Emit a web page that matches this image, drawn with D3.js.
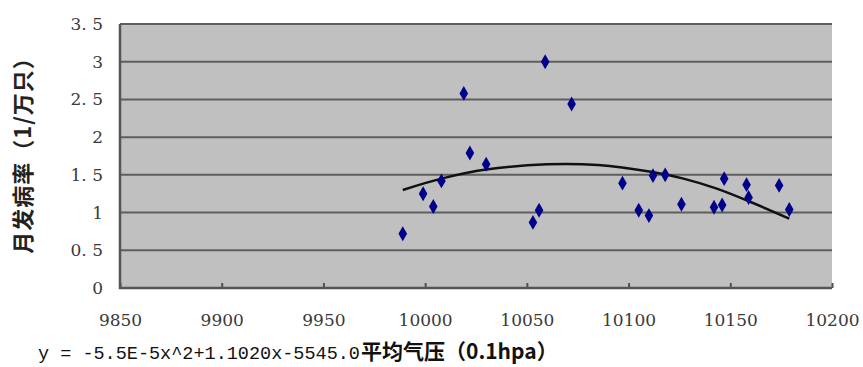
<!DOCTYPE html>
<meta charset="utf-8">
<style>
  body { margin: 0; background: #fff; }
  svg { display: block; }
  .tick text { font-family: "DejaVu Serif", serif; font-size: 17px; fill: #3a3a3a; }
</style>
<body>
<script src="https://cdn.jsdelivr.net/npm/d3@7"></script>
<script>
// observed points (pressure in 0.1 hPa, monthly incidence in 1/10000)
var pressure = [9989, 9999, 10004, 10008, 10019, 10022, 10030, 10053, 10056, 10059, 10072, 10097,
                10105, 10110, 10112, 10118, 10126, 10142, 10146, 10147, 10158, 10159, 10174, 10179];
var incidence = [0.72, 1.25, 1.08, 1.42, 2.58, 1.79, 1.64, 0.87, 1.03, 3.00, 2.44, 1.39,
                 1.03, 0.96, 1.49, 1.50, 1.11, 1.07, 1.10, 1.45, 1.37, 1.20, 1.36, 1.04];

// trend curve
var trendX = [9989, 10008, 10030, 10060, 10085, 10111, 10127, 10143, 10160, 10179];
var trendY = [1.30, 1.45, 1.57, 1.64, 1.63, 1.54, 1.45, 1.32, 1.14, 0.92];

var xTicks = [9850, 9900, 9950, 10000, 10050, 10100, 10150, 10200];
var yTicks = [0, 0.5, 1, 1.5, 2, 2.5, 3, 3.5];

var W = 863, H = 367;
var pLeft = 120, pRight = 832, pTop = 24, pBottom = 288;

var svg = d3.select("body").append("svg")
    .attr("width", W)
    .attr("height", H);

var x = d3.scaleLinear().domain([9850, 10200]).range([pLeft, pRight]);
var y = d3.scaleLinear().domain([0, 3.5]).range([pBottom, pTop]);

// plot background
svg.append("rect")
    .attr("x", pLeft).attr("y", pTop)
    .attr("width", pRight - pLeft).attr("height", pBottom - pTop)
    .attr("fill", "#c0c0c0");

// horizontal grid
svg.append("g")
    .selectAll("line")
    .data(yTicks.filter(function(d) { return d > 0; }))
    .enter().append("line")
    .attr("x1", pLeft).attr("x2", pRight)
    .attr("y1", function(d) { return y(d); })
    .attr("y2", function(d) { return y(d); })
    .attr("stroke", "#5e5e5e")
    .attr("stroke-width", 2);

// y axis
var yAxis = svg.append("g")
    .attr("transform", "translate(" + pLeft + ",0)")
    .call(d3.axisLeft(y).tickValues(yTicks).tickSize(0).tickPadding(17)
        .tickFormat(function(d) { return d3.format("")(d).replace(".", ". "); }));
yAxis.select(".domain").remove();

// x axis
var xAxis = svg.append("g")
    .attr("transform", "translate(0," + pBottom + ")")
    .call(d3.axisBottom(x).tickValues(xTicks).tickSizeInner(-5).tickSizeOuter(0).tickPadding(26)
        .tickFormat(d3.format("d")));
xAxis.select(".domain").remove();
xAxis.selectAll(".tick line").attr("stroke", "#505050").attr("stroke-width", 2);

// frame: left and bottom
svg.append("path")
    .attr("d", "M" + pLeft + "," + pTop + "V" + pBottom + "H" + pRight)
    .attr("fill", "none")
    .attr("stroke", "#555")
    .attr("stroke-width", 2.5);

// trend curve
var line = d3.line()
    .x(function(d) { return x(d[0]); })
    .y(function(d) { return y(d[1]); })
    .curve(d3.curveCatmullRom);

svg.append("path")
    .datum(trendX.map(function(v, i) { return [v, trendY[i]]; }))
    .attr("d", line)
    .attr("fill", "none")
    .attr("stroke", "#111")
    .attr("stroke-width", 2.5);

// points
svg.append("g")
    .selectAll("path")
    .data(pressure.map(function(v, i) { return [v, incidence[i]]; }))
    .enter().append("path")
    .attr("transform", function(d) { return "translate(" + x(d[0]) + "," + y(d[1]) + ")"; })
    .attr("d", d3.symbol().type(d3.symbolDiamond).size(64))
    .attr("fill", "#00008b");

// y title
svg.append("text")
    .attr("transform", "translate(31,150) rotate(-90)")
    .attr("text-anchor", "middle")
    .style("font-family", "'Noto Sans CJK SC'")
    .style("font-weight", "bold")
    .style("font-size", "22px")
    .style("letter-spacing", "1px")
    .attr("fill", "#222")
    .text("月发病率（1/万只）");

// equation
svg.append("text")
    .attr("x", 38).attr("y", 359)
    .style("font-family", "'Liberation Mono', monospace")
    .style("font-size", "18.5px")
    .attr("fill", "#111")
    .text("y = -5.5E-5x^2+1.1020x-5545.0");

// x title
svg.append("text")
    .attr("x", 361).attr("y", 359)
    .style("font-family", "'Noto Sans CJK SC'")
    .style("font-weight", "bold")
    .style("font-size", "21px")
    .attr("fill", "#111")
    .text("平均气压（0.1hpa）");
</script>
</body>
